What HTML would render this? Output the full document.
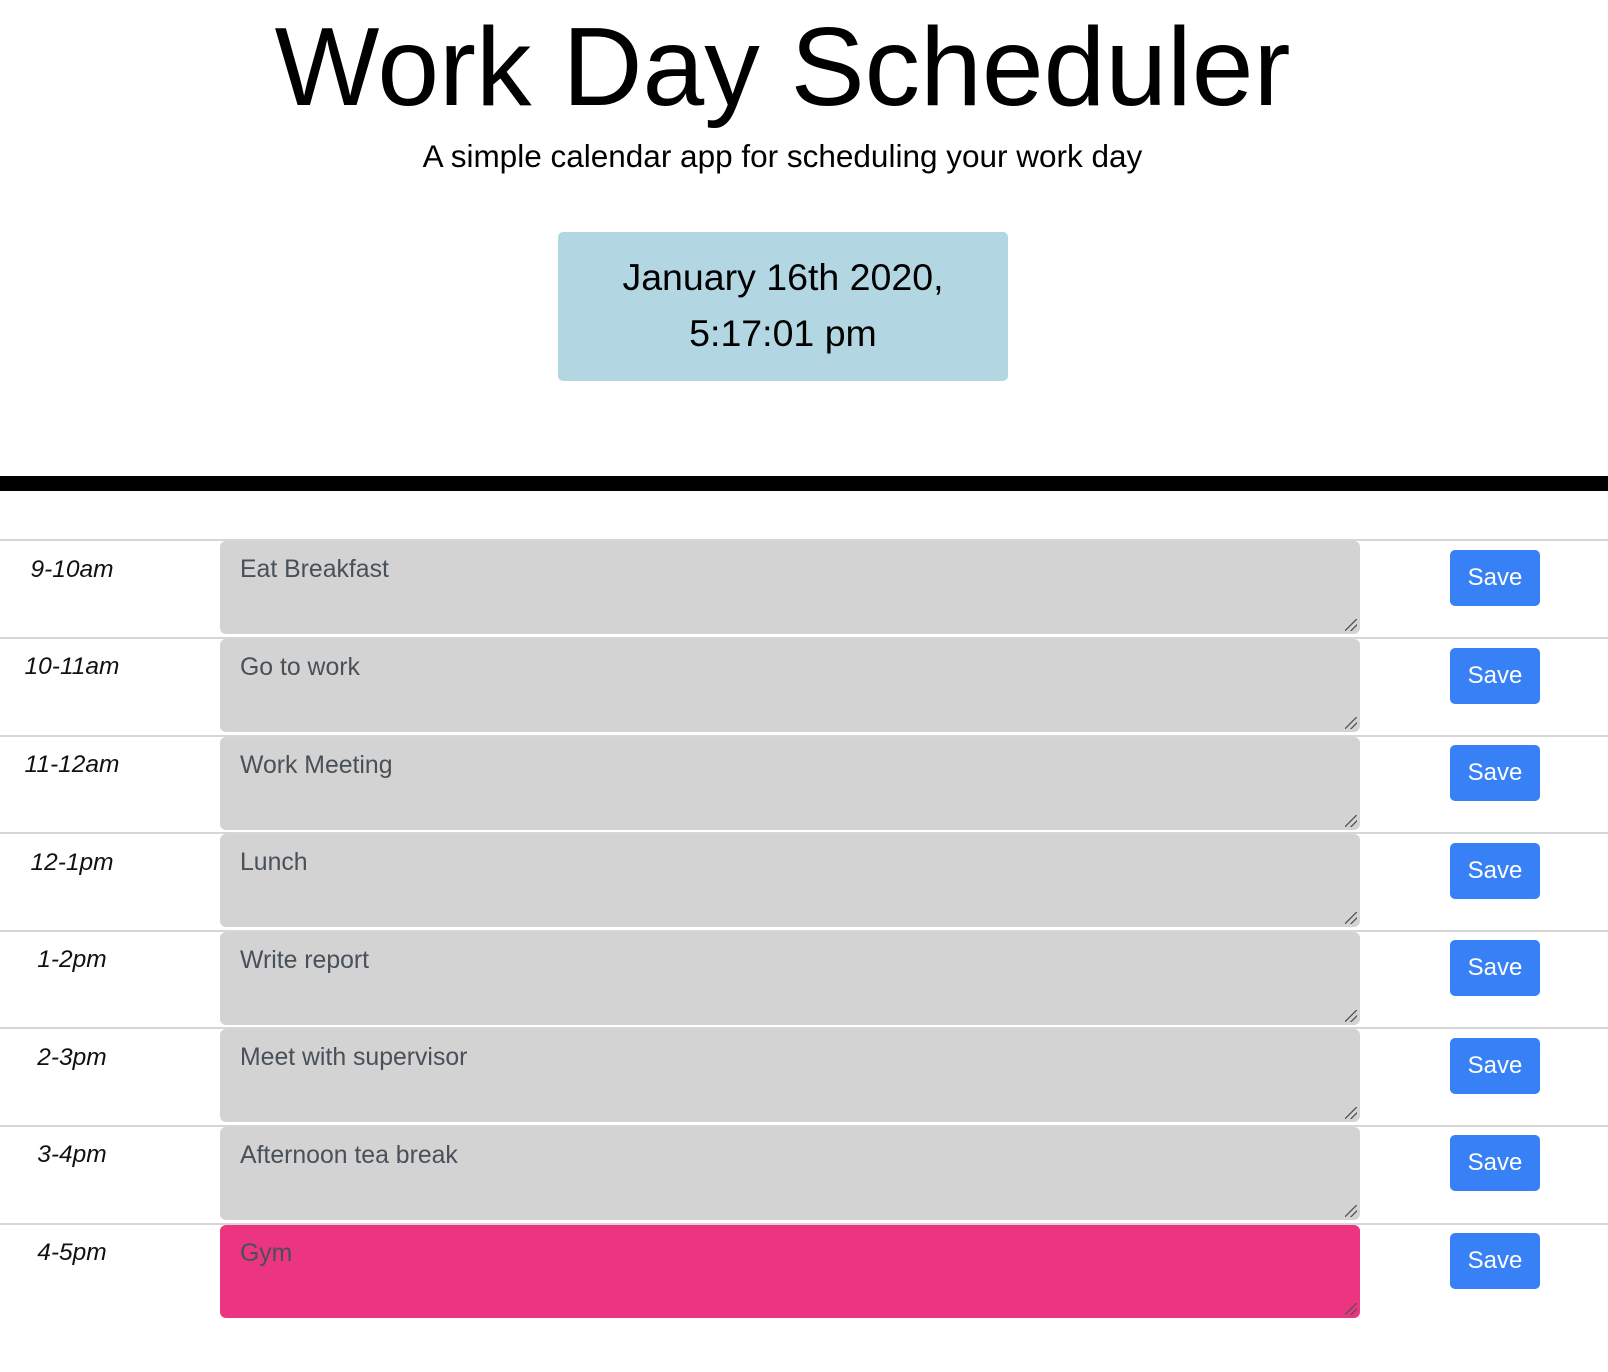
<!DOCTYPE html>
<html><head><style>
body{margin:0;width:1608px;height:1372px;position:relative;background:#fff;font-family:"Liberation Sans",sans-serif;overflow:hidden}
.a{position:absolute}
h1{position:absolute;left:0;width:1565px;top:7px;margin:0;text-align:center;font-weight:400;font-size:111px;line-height:120px;color:#000}
.sub{left:0;width:1565px;top:138px;text-align:center;font-size:31.5px;color:#000}
.date{left:558px;top:232px;width:450px;height:149px;background:#b3d7e2;border-radius:5px;text-align:center;font-size:37.5px;line-height:56px;padding-top:17px;box-sizing:border-box;color:#000}
.bar{left:0;top:476px;width:1608px;height:15px;background:#000}
.line{left:0;width:1608px;height:2px;background:#d6d6d6}
.t{left:0;width:144px;text-align:center;font-style:italic;font-size:24.5px;color:#111}
.ta{left:220px;width:1140px;height:93px;background:#d3d3d3;border-radius:6px;box-sizing:border-box;padding:15px 20px;font-size:24.8px;color:#495057}
.ta:after{content:"";position:absolute;right:3px;bottom:3px;width:12px;height:12px;background:linear-gradient(135deg,transparent 45%,#555 46%,#555 52%,transparent 53%,transparent 70%,#555 71%,#555 77%,transparent 78%)}
.btn{left:1450px;width:90px;height:56px;background:#3880f5;border-radius:5px;color:#fff;font-size:24px;text-align:center;line-height:56px}
</style></head><body>
<h1>Work Day Scheduler</h1>
<div class="a sub">A simple calendar app for scheduling your work day</div>
<div class="a date">January 16th 2020,<br>5:17:01 pm</div>
<div class="a bar"></div>

<div class="a line" style="top:539px"></div>
<div class="a t" style="top:556px">9-10am</div>
<div class="a ta" style="top:541px">Eat Breakfast</div>
<div class="a btn" style="top:550px">Save</div>

<div class="a line" style="top:637px"></div>
<div class="a t" style="top:653px">10-11am</div>
<div class="a ta" style="top:639px">Go to work</div>
<div class="a btn" style="top:648px">Save</div>

<div class="a line" style="top:735px"></div>
<div class="a t" style="top:751px">11-12am</div>
<div class="a ta" style="top:737px">Work Meeting</div>
<div class="a btn" style="top:745px">Save</div>

<div class="a line" style="top:832px"></div>
<div class="a t" style="top:849px">12-1pm</div>
<div class="a ta" style="top:834px">Lunch</div>
<div class="a btn" style="top:843px">Save</div>

<div class="a line" style="top:930px"></div>
<div class="a t" style="top:946px">1-2pm</div>
<div class="a ta" style="top:932px">Write report</div>
<div class="a btn" style="top:940px">Save</div>

<div class="a line" style="top:1027px"></div>
<div class="a t" style="top:1044px">2-3pm</div>
<div class="a ta" style="top:1029px">Meet with supervisor</div>
<div class="a btn" style="top:1038px">Save</div>

<div class="a line" style="top:1125px"></div>
<div class="a t" style="top:1141px">3-4pm</div>
<div class="a ta" style="top:1127px">Afternoon tea break</div>
<div class="a btn" style="top:1135px">Save</div>

<div class="a line" style="top:1223px"></div>
<div class="a t" style="top:1239px">4-5pm</div>
<div class="a ta" style="top:1225px;background:#ec3580">Gym</div>
<div class="a btn" style="top:1233px">Save</div>
</body></html>
